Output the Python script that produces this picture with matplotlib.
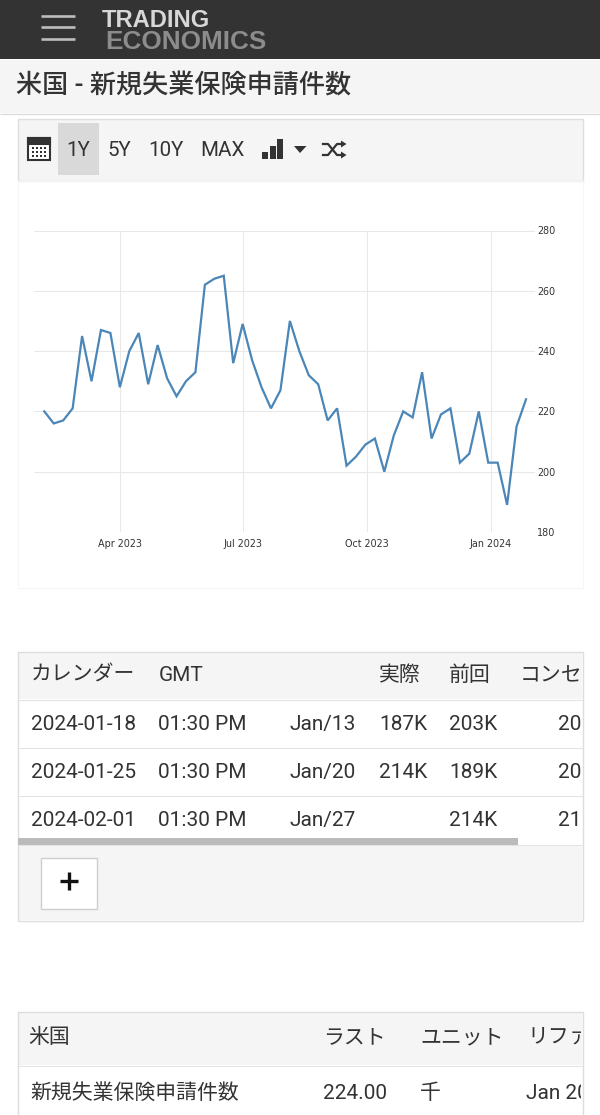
#!/usr/bin/env python3
"""Mobile Trading Economics page: US initial jobless claims, in Japanese."""

import matplotlib
matplotlib.use('Agg')
import matplotlib.dates as mdates
import matplotlib.pyplot as plt
import pandas as pd
from matplotlib.patches import Polygon, Rectangle

W, H = 600, 1115
JP = ['Roboto', 'Noto Sans CJK JP', 'DejaVu Sans']

# weekly claims, thousands
first_week = '2023-02-04'
claims = [220, 216, 217, 221, 245, 230, 247, 246, 228, 240, 246, 229, 242,
          231, 225, 230, 233, 262, 264, 265, 236, 249, 237, 228, 221, 227,
          250, 240, 232, 229, 217, 221, 202, 205, 209, 211, 200, 212, 220,
          218, 233, 211, 219, 221, 203, 206, 220, 203, 203, 189, 215, 224]
x_ticks = ['2023-04-01', '2023-07-01', '2023-10-01', '2024-01-01']
y_ticks = [180, 200, 220, 240, 260, 280]

title = '米国 - 新規失業保険申請件数'
range_buttons = ['1Y', '5Y', '10Y', 'MAX']

calendar_header = ['カレンダー', 'GMT', '実際', '前回', 'コンセンサス']
calendar_rows = [
    ['2024-01-18', '01:30 PM', 'Jan/13', '187K', '203K', '207K'],
    ['2024-01-25', '01:30 PM', 'Jan/20', '214K', '189K', '200K'],
    ['2024-02-01', '01:30 PM', 'Jan/27', '', '214K', '212K'],
]
summary_header = ['米国', 'ラスト', 'ユニット', 'リファレンス']
summary_row = ['新規失業保険申請件数', '224.00', '千', 'Jan 2024']

fig = plt.figure(figsize=(W / 100, H / 100), dpi=100, facecolor='white')

# page furniture is drawn in pixel coordinates on a full-figure axes
ui = fig.add_axes([0, 0, 1, 1])
ui.set_xlim(0, W)
ui.set_ylim(H, 0)
ui.axis('off')


def box(x0, y0, x1, y1, fc='none', ec='none', lw=0.75, z=1):
    r = Rectangle((x0, y0), x1 - x0, y1 - y0, facecolor=fc, edgecolor=ec, linewidth=lw, zorder=z)
    ui.add_patch(r)
    return r


def hline(y, x0=17, x1=583, color='#e2e2e2', lw=0.8):
    ui.plot([x0, x1], [y, y], color=color, lw=lw, solid_capstyle='butt', zorder=2)


def label(x, y, s, size=15.0, color='#333333', clip=None, **kw):
    # y is the text baseline, so latin and kana in one row line up
    t = ui.text(x, y, s, fontsize=size, color=color, family=JP, va='baseline', ha='left', zorder=5, **kw)
    if clip is not None:
        t.set_clip_path(clip)
        t.set_clip_on(True)
    return t


# top bar
box(0, 0, W, 59, fc='#333333')
for y in (16, 27, 39):
    ui.plot([41, 75], [y, y], color='#bdbdbd', lw=1.9, solid_capstyle='butt', zorder=3)
ui.text(102, 27, 'TRADING', family='Liberation Sans', weight='bold', fontsize=17.1, color='#d8d8d8', va='baseline', zorder=4)
ui.text(105, 49, 'ECONOMICS', family='Liberation Sans', weight='bold', fontsize=18.8, color='#8c8c8c', va='baseline', zorder=4)

# title band
box(0, 60, W, 113, fc='#f5f5f5')
hline(113.5, 0, W, color='#dcdcdc', lw=1.0)
label(16, 94, title, size=18.8, color='#333333', weight=500)

# toolbar
box(17.5, 118.5, 582.5, 180.5, fc='#f5f5f5', ec='#dedede', lw=1.0)
box(58, 123, 99, 175, fc='#d9d9d9', z=2)
for s, x in zip(range_buttons, (66, 107, 148, 200)):
    label(x, 155.5, s, size=14.8, color='#333333')

# calendar icon
box(27.5, 138, 49.5, 160, fc='white', ec='#333333', lw=1.5, z=3)
box(27.5, 138, 49.5, 144, fc='#333333', ec='#333333', lw=1.5, z=3)
for row in range(3):
    for col in range(4):
        box(32 + col * 4, 147 + row * 3.8, 34.2 + col * 4, 149.2 + row * 3.8, fc='#333333', z=4)

# chart type icon and dropdown arrow
for x0, top in ((262, 152), (269.5, 146), (277, 139)):
    box(x0, top, x0 + 6, 158.5, fc='#333333', z=3)
ui.add_patch(Polygon([(294, 146), (306.5, 146), (300, 153)], fc='#333333', zorder=3))

# shuffle icon
ui.plot([323, 328, 337, 343], [144, 144, 155, 155], color='#333333', lw=1.6, zorder=3)
ui.plot([323, 328, 337, 343], [155, 155, 144, 144], color='#333333', lw=1.6, zorder=3)
ui.add_patch(Polygon([(341, 140.5), (346.5, 144), (341, 147.5)], fc='#333333', zorder=3))
ui.add_patch(Polygon([(341, 151.5), (346.5, 155), (341, 158.5)], fc='#333333', zorder=3))

# faint frame round the chart
box(17.5, 181, 582.5, 587.5, ec='#f6f6f6', lw=0.8)

# chart
ax_x0, ax_x1, ax_y0, ax_y1 = 34, 535, 230.5, 532
ax = fig.add_axes([ax_x0 / W, 1 - ax_y1 / H, (ax_x1 - ax_x0) / W, (ax_y1 - ax_y0) / H])
ax.patch.set_alpha(0)
dates = pd.date_range(first_week, periods=len(claims), freq='7D')
days = mdates.date2num(dates)

# first and last point sit at these pixels
px_first, px_last = 44.3, 526.0
px_per_day = (px_last - px_first) / (days[-1] - days[0])
ax.set_xlim(days[0] - (px_first - ax_x0) / px_per_day, days[-1] + (ax_x1 - px_last) / px_per_day)
ax.set_ylim(180, 280)

ax.plot(days, claims, color='#4a86b8', lw=1.6, solid_joinstyle='miter', clip_on=False, zorder=3)

ax.set_xticks(mdates.date2num(pd.to_datetime(x_ticks)))
ax.xaxis.set_major_formatter(mdates.DateFormatter('%b %Y'))
ax.set_yticks(y_ticks)
ax.yaxis.tick_right()
ax.grid(True, color='#e8e8e8', lw=0.75)
ax.set_axisbelow(True)
ax.tick_params(axis='both', length=0, labelsize=6.9, labelcolor='#333333')
ax.tick_params(axis='x', pad=5)
ax.tick_params(axis='y', pad=1.5)
for s in ax.spines.values():
    s.set_visible(False)

# calendar table
box(17.5, 652, 582.5, 920.5, ec='#dddddd', lw=1.0, z=2)
box(18, 652.5, 582, 699, fc='#f5f5f5')
box(18, 845, 582, 920, fc='#f5f5f5')
clip1 = box(18, 652, 581, 845)
for y in (699.5, 747.5, 795.5, 844.5):
    hline(y, color='#e4e4e4')
box(18, 838, 518, 845, fc='#bbbbbb', z=3)
box(40.5, 857.5, 97, 908.5, fc='white', ec='#cfcfcf', lw=1.0, z=3)
ui.plot([59.5, 77.5], [881, 881], color='#111111', lw=2.4, solid_capstyle='butt', zorder=4)
ui.plot([68.5, 68.5], [872, 890], color='#111111', lw=2.4, solid_capstyle='butt', zorder=4)

for s, x in zip(calendar_header, (31, 159, 379, 449, 520)):
    label(x, 681, s, clip=clip1)
row_cols = (31, 158, 290, 379, 449, 558)
for row, y in zip(calendar_rows, (730, 778, 826)):
    for s, x in zip(row, row_cols):
        label(x, y, s, clip=clip1)

# summary table
box(17.5, 1011.5, 582.5, H + 5, ec='#dddddd', lw=1.0, z=2)
box(18, 1012, 582, 1065, fc='#f5f5f5')
hline(1065.5, color='#e4e4e4')
clip2 = box(18, 1012, 581, H)
for s, x in zip(summary_header, (28, 323, 420, 527)):
    label(x, 1043, s, clip=clip2)
for s, x in zip(summary_row, (30, 323, 420, 526)):
    label(x, 1099, s, clip=clip2)

fig.savefig('out.png', dpi=100)
